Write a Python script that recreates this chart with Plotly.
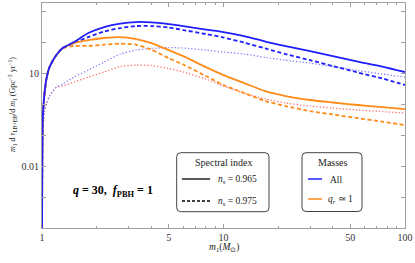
import plotly.graph_objects as go

# ---------------- data ----------------
m1 = [1.0, 1.01, 1.03, 1.06, 1.1, 1.2, 1.3, 1.5, 1.8, 2.2, 2.7, 3.3, 4, 5, 6, 8, 10,
      13, 17, 22, 30, 40, 55, 75, 100]

all_ns965 = [1e-6, 0.35, 1.95, 6.9, 15.6, 38, 64, 100, 195, 305, 395, 442, 432, 380, 328,
             253, 210, 156, 104, 74, 51, 35, 23.5, 16.2, 10.8]
all_ns975 = [1e-6, 0.35, 1.95, 6.9, 15.6, 38, 64, 93, 145, 218, 283, 328, 328, 294, 244,
             181, 140, 96, 62, 41, 26, 16.8, 10.4, 6.7, 4.1]
eq_ns965 = [1e-6, 0.35, 1.95, 6.9, 15.6, 38, 64, 93, 116, 135, 145, 125, 93, 55, 35,
            15.6, 8.6, 4.75, 2.6, 1.81, 1.35, 1.12, 0.93, 0.80, 0.69]
eq_ns975 = [1e-6, 0.35, 1.95, 6.9, 15.6, 38, 62, 75, 75, 82, 89, 82, 57, 30, 18.8,
            8.0, 4.1, 2.26, 1.25, 0.86, 0.59, 0.46, 0.35, 0.27, 0.21]
all_dotted = [1e-6, 0.1, 0.55, 1.08, 1.8, 3.5, 4.4, 7.4, 12.5, 22.7, 41, 55, 62, 66.5, 64,
              55, 47.6, 41, 32, 26, 21, 16.2, 12, 9.3, 7.4]
eq_dotted = [1e-6, 0.1, 0.55, 1.08, 1.8, 3.5, 3.8, 5.1, 7.4, 10.8, 16.2, 18, 17.5, 14, 10.8,
             6.4, 3.8, 2.26, 1.45, 1.08, 0.86, 0.74, 0.64, 0.57, 0.51]

x_tickvals = [1, 5, 10, 50, 100]
x_ticktext = ["1", "5", "10", "50", "100"]
x_minor = [2, 3, 4, 6, 7, 8, 9, 20, 30, 40, 60, 70, 80, 90]
y_tickvals = [1e-4, 1e-3, 1e-2, 1e-1, 1, 10, 100, 1000]
y_ticktext = ["", "", "0.01", "", "", "10", "", ""]

BLUE = "#1f1fff"
ORANGE = "#ff8c1a"
BLUE_DOT = "#8080ff"
RED_DOT = "#ff7070"
FONT = "Liberation Serif"

# ---------------- geometry helpers ----------------
W, H = 415, 263
L, R, T, B = 42, 405, 3, 228


def px(x):
    return (x - L) / (R - L)


def py(y):
    return (B - y) / (B - T)


fig = go.Figure()

series = [
    (eq_dotted, RED_DOT, "1.3px,2px", 1.3),
    (all_dotted, BLUE_DOT, "1.3px,2px", 1.3),
    (eq_ns975, ORANGE, "4px,2.5px", 1.8),
    (all_ns975, BLUE, "4px,2.5px", 1.8),
    (eq_ns965, ORANGE, "solid", 1.8),
    (all_ns965, BLUE, "solid", 1.8),
]
for ys, col, dash, w in series:
    fig.add_trace(go.Scatter(x=m1, y=ys, mode="lines",
                             line=dict(color=col, dash=dash, width=w, shape="spline", smoothing=0.6),
                             showlegend=False, hoverinfo="skip", cliponaxis=True))

axis_common = dict(showline=True, linecolor="#a0a0a0", linewidth=1, mirror="ticks",
                   ticks="inside", tickcolor="#a0a0a0", showgrid=False, zeroline=False,
                   automargin=False,
                   tickfont=dict(family=FONT, size=10, color="#333333"))

fig.update_xaxes(type="log", range=[0, 2], tickvals=x_tickvals, ticktext=x_ticktext,
                 ticklen=4, minor=dict(tickvals=x_minor, ticklen=2, ticks="inside",
                                       tickcolor="#a0a0a0", showgrid=False),
                 **axis_common)
fig.update_yaxes(type="log", range=[-4, 3.26], tickvals=y_tickvals, ticktext=y_ticktext,
                 ticklen=4, **axis_common)


def rounded_box(x0, y0, x1, y1, r=4):
    rx = r / (R - L)
    ry = r / (B - T)
    X0, X1 = px(x0), px(x1)
    Y0, Y1 = py(y1), py(y0)
    return (f"M {X0+rx},{Y1} L {X1-rx},{Y1} Q {X1},{Y1} {X1},{Y1-ry} "
            f"L {X1},{Y0+ry} Q {X1},{Y0} {X1-rx},{Y0} L {X0+rx},{Y0} "
            f"Q {X0},{Y0} {X0},{Y0+ry} L {X0},{Y1-ry} Q {X0},{Y1} {X0+rx},{Y1} Z")


shapes = []
for bx in [(176.7, 152.7, 269, 211.7), (302, 152.7, 362, 211.5)]:
    shapes.append(dict(type="path", xref="paper", yref="paper", path=rounded_box(*bx),
                       line=dict(color="#444444", width=1), fillcolor="white", layer="above"))

shapes.append(dict(type="line", xref="paper", yref="paper", x0=px(182), x1=px(210), y0=py(179),
                   y1=py(179), line=dict(color="black", width=1.3)))
shapes.append(dict(type="line", xref="paper", yref="paper", x0=px(182), x1=px(210), y0=py(201),
                   y1=py(201), line=dict(color="black", width=1.3, dash="3px,2px")))
shapes.append(dict(type="line", xref="paper", yref="paper", x0=px(308), x1=px(322), y0=py(179),
                   y1=py(179), line=dict(color=BLUE, width=1.5)))
shapes.append(dict(type="line", xref="paper", yref="paper", x0=px(308), x1=px(322), y0=py(199),
                   y1=py(199), line=dict(color=ORANGE, width=1.5)))
fig.update_layout(shapes=shapes)


def ann(text, x, y, size=10, xanchor="center", angle=0, color="#222222"):
    fig.add_annotation(text=text, x=px(x), y=py(y), xref="paper", yref="paper", showarrow=False,
                       xanchor=xanchor, yanchor="middle", textangle=angle,
                       font=dict(family=FONT, size=size, color=color))


ann("Spectral index", 223, 162.7, size=10)
ann("<i>n</i><sub>s</sub> = 0.965", 216, 179.5, size=9.5, xanchor="left")
ann("<i>n</i><sub>s</sub> = 0.975", 216, 201.5, size=9.5, xanchor="left")
ann("Masses", 332.5, 162.7, size=10)
ann("All", 328, 179.5, size=9.5, xanchor="left")
ann("<i>q</i><sub><i>r</i></sub> ≃ 1", 326, 199.5, size=9.5, xanchor="left")
ann("<b><i>q</i> = 30,  <i>f</i><sub>PBH</sub> = 1</b>", 113, 190.5, size=12, color="black")
ann("<i>m</i><sub>1</sub>(<i>M</i><sub>⊙</sub>)", 224, 248, size=9.5)
ann("<i>m</i><sub>1</sub> d <i>τ</i><sub>LB+EB</sub>/d <i>m</i><sub>1</sub> (Gpc<sup>−3</sup> yr<sup>−1</sup>)",
    12, 105, size=8, angle=-90)

fig.update_layout(width=W, height=H, margin=dict(l=L, r=W - R, t=T, b=H - B),
                  plot_bgcolor="white", paper_bgcolor="white")

fig.write_html("out.html", config={"displayModeBar": False},
               post_script="document.body.style.margin='0';document.body.style.overflow='hidden';")
